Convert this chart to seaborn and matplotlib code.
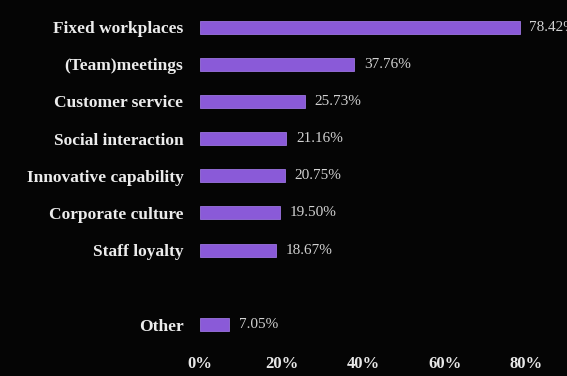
import pandas as pd
import matplotlib.pyplot as plt
import seaborn as sns

# values
categories = ['Fixed workplaces', '(Team)meetings', 'Customer service',
              'Social interaction', 'Innovative capability', 'Corporate culture',
              'Staff loyalty', 'Other']
shares = [78.42, 37.76, 25.73, 21.16, 20.75, 19.50, 18.67, 7.05]
x_ticks = [0, 20, 40, 60, 80]

# blank slot between "Staff loyalty" and "Other"
order = categories[:7] + [' '] + categories[7:]

df = pd.DataFrame({'Category': categories, 'Share': shares})

sns.set_theme(style='white')
plt.rcParams['font.family'] = ['Liberation Serif', 'DejaVu Serif']

fig = plt.figure(figsize=(5.67, 3.76), dpi=100, facecolor='#050505')
ax = fig.add_axes([0.353, 0.0875, 0.575, 0.89])
ax.set_facecolor('#050505')

sns.barplot(data=df, x='Share', y='Category', order=order, orient='h',
            color='#8a5ad8', saturation=1, width=0.35,
            edgecolor='#9b74e0', linewidth=0.6, ax=ax)

# value labels next to each bar (the top one runs off the right edge, as in the original)
for i, cat in enumerate(order):
    if cat.strip() == '':
        continue
    v = df.loc[df['Category'] == cat, 'Share'].iloc[0]
    ax.annotate(f'{v:.2f}%', xy=(v, i), xytext=(7, 0), textcoords='offset points',
                va='center', ha='left', fontsize=11, color='#d2d2d2',
                annotation_clip=False)

ax.set_xlim(0, 80)
ax.set_xticks(x_ticks)
ax.set_xticklabels([f'{t}%' for t in x_ticks])
ax.set_xlabel('')
ax.set_ylabel('')
for s in ax.spines.values():
    s.set_visible(False)
ax.tick_params(axis='x', colors='#e8e8e8', length=0, pad=9, labelsize=12)
ax.tick_params(axis='y', colors='#ececec', length=0, pad=12, labelsize=12.5)
for lab in ax.get_xticklabels() + ax.get_yticklabels():
    lab.set_fontweight('bold')

fig.savefig('out.png', dpi=100, facecolor=fig.get_facecolor())
